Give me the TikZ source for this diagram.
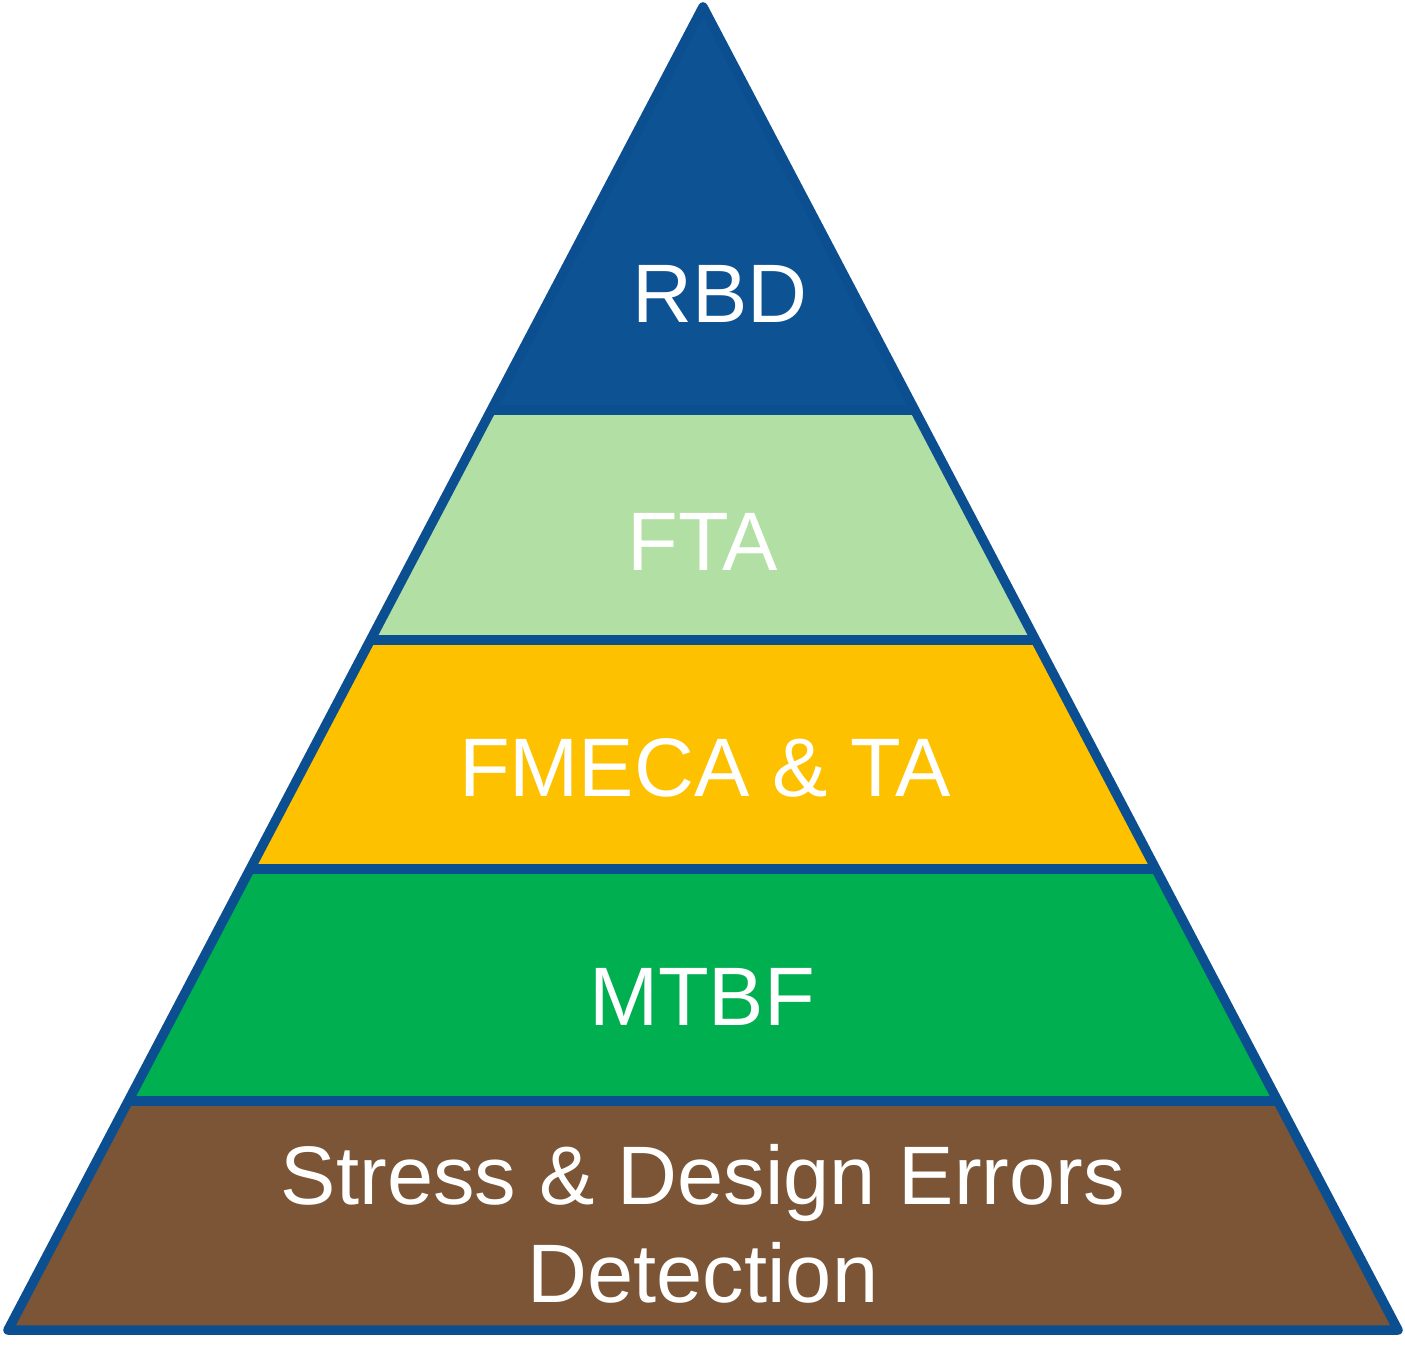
\documentclass[tikz,border=0pt]{standalone}
\usepackage{fontspec}
\setmainfont{Liberation Sans}
\usetikzlibrary{calc}
\definecolor{edge}{HTML}{0B4F91}
\definecolor{rbd}{HTML}{0D5293}
\definecolor{fta}{HTML}{B2DFA4}
\definecolor{fmeca}{HTML}{FDC100}
\definecolor{mtbf}{HTML}{00B050}
\definecolor{stress}{HTML}{7B5536}
\tikzset{
  layer/.style={draw=edge, line width=9.5pt, line join=round},
  lbl/.style={text=white, anchor=base, inner sep=0pt, font=\fontsize{83}{98}\selectfont}
}
\begin{document}
\begin{tikzpicture}[x=1pt,y=-1pt]
\useasboundingbox (0,0) rectangle (1405,1372);
\coordinate (apex) at (703,7);
\coordinate (bl) at (8,1330);
\coordinate (br) at (1398,1330);
\coordinate (l1) at ($(apex)!0.3046!(bl)$);
\coordinate (r1) at ($(apex)!0.3046!(br)$);
\coordinate (l2) at ($(apex)!0.4785!(bl)$);
\coordinate (r2) at ($(apex)!0.4785!(br)$);
\coordinate (l3) at ($(apex)!0.6515!(bl)$);
\coordinate (r3) at ($(apex)!0.6515!(br)$);
\coordinate (l4) at ($(apex)!0.8269!(bl)$);
\coordinate (r4) at ($(apex)!0.8269!(br)$);
\fill[stress] (l4) -- (bl) -- (br) -- (r4) -- cycle;
\fill[mtbf] (l3) -- (l4) -- (r4) -- (r3) -- cycle;
\fill[fmeca] (l2) -- (l3) -- (r3) -- (r2) -- cycle;
\fill[fta] (l1) -- (l2) -- (r2) -- (r1) -- cycle;
\fill[rbd] (apex) -- (l1) -- (r1) -- cycle;
\draw[layer] (l1) -- (r1);
\draw[layer] (l2) -- (r2);
\draw[layer] (l3) -- (r3);
\draw[layer] (l4) -- (r4);
\draw[layer] (apex) -- (bl) -- (br) -- cycle;
\node[lbl] (trbd) at (720,323) {RBD};
\node[lbl] (tfta) at (703,570) {FTA};
\node[lbl] (tfmeca) at (705,796) {FMECA \& TA};
\node[lbl] (tmtbf) at (702,1025) {MTBF};
\node[lbl] (tstress) at (703,1204) {Stress \& Design Errors};
\node[lbl] (tdetect) at (703,1302) {Detection};
\end{tikzpicture}
\end{document}
